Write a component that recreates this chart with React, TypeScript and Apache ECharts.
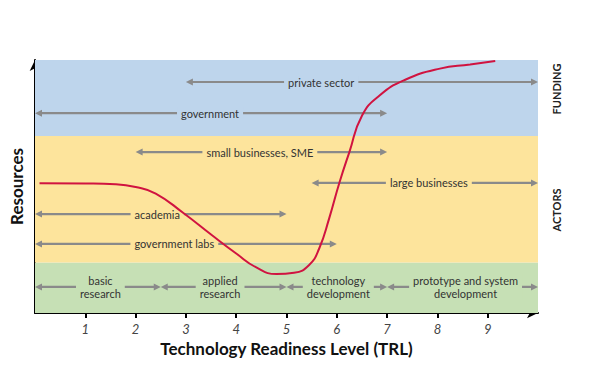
import React, { useEffect, useRef } from "react";
import * as echarts from "echarts";

// TRL axis
const trlTicks = [1, 2, 3, 4, 5, 6, 7, 8, 9];
const xMin = 0;
const xMax = 10;

// Background bands (resource level ranges)
const bandNames = ["stages", "actors", "funding"];
const bandFrom = [0, 20, 70];
const bandTo = [20, 70, 100];
const bandColors = ["#c6e0b5", "#fde49c", "#bed5ec"];
const bandLabels = ["", "ACTORS", "FUNDING"];

// Arrows
const arrowLabels = [
  "private sector",
  "government",
  "small businesses, SME",
  "large businesses",
  "academia",
  "government labs",
  "basic\nresearch",
  "applied\nresearch",
  "technology\ndevelopment",
  "prototype and system\ndevelopment",
];
const arrowStart = [3, 0, 2, 5.5, 0, 0, 0, 2.5, 5, 7];
const arrowEnd = [10, 7, 7, 10, 5, 6, 2.5, 5, 7, 10];
const arrowY = [91.3, 79, 63.6, 51.4, 39.1, 27.3, 10.3, 10.3, 10.3, 10.3];
const arrowLabelX = [5.69, 3.48, 4.47, 7.83, 2.43, 2.77, 1.3, 3.68, 6.03, 8.56];

// Resources curve
const curveX = [0.09, 1.0, 1.6, 2.0, 2.4, 2.95, 3.5, 4.0, 4.4, 4.8, 5.15, 5.45, 5.65, 5.85, 6.05, 6.25, 6.5, 6.85, 7.35, 8.05, 8.65, 9.15];
const curveY = [51.3, 51.2, 50.9, 49.8, 47.2, 39.5, 31.0, 23.5, 18.0, 15.4, 15.9, 19.0, 25.5, 37.5, 51.4, 63.6, 78.0, 86.0, 92.1, 96.6, 98.2, 99.6];

const FONT = "Lato, 'Open Sans', sans-serif";

function bandColorAt(y: number): string {
  for (let i = 0; i < bandFrom.length; i++) {
    if (y >= bandFrom[i] && y < bandTo[i]) return bandColors[i];
  }
  return "#fff";
}

export default function App() {
  const ref = useRef<HTMLDivElement>(null);

  useEffect(() => {
    if (!ref.current) return;
    const chart = echarts.init(ref.current, undefined, { renderer: "svg" });

    const arrowData = arrowLabels.map((_, i) => [arrowStart[i], arrowEnd[i], arrowY[i], arrowLabelX[i]]);

    const option: any = {
      animation: false,
      backgroundColor: "#ffffff",
      grid: { left: 32, right: 57, top: 60, bottom: 78, containLabel: false },
      xAxis: [
        {
          type: "value",
          min: xMin,
          max: xMax,
          interval: 1,
          position: "bottom",
          name: "Technology Readiness Level (TRL)",
          nameLocation: "middle",
          nameGap: 24,
          nameTextStyle: { fontFamily: FONT, fontWeight: "bold", fontSize: 17, color: "#111" },
          axisLine: {
            show: true,
            lineStyle: { color: "#000", width: 2 },
            symbol: ["none", "arrow"],
            symbolSize: [8, 11],
          },
          axisTick: { show: true, customValues: trlTicks, length: 5, lineStyle: { color: "#000", width: 2 } },
          axisLabel: {
            customValues: trlTicks,
            fontFamily: FONT,
            fontStyle: "italic",
            fontSize: 13,
            color: "#444",
            margin: 9,
          },
          splitLine: { show: false },
        },
        {
          type: "value",
          min: xMin,
          max: xMax,
          interval: 1,
          position: "bottom",
          offset: 0,
          axisLine: { show: false },
          axisTick: { show: true, inside: true, customValues: trlTicks, length: 5, lineStyle: { color: "#000", width: 2 } },
          axisLabel: { show: false },
          splitLine: { show: false },
        },
      ],
      yAxis: {
        type: "value",
        min: 0,
        max: 100,
        name: "Resources",
        nameLocation: "middle",
        nameGap: 10,
        nameTextStyle: { fontFamily: FONT, fontWeight: "bold", fontSize: 17, color: "#111" },
        axisLine: {
          show: true,
          lineStyle: { color: "#000", width: 2 },
          symbol: ["none", "arrow"],
          symbolSize: [8, 11],
        },
        axisTick: { show: false },
        axisLabel: { show: false },
        splitLine: { show: false },
      },
      series: [
        {
          name: "bands",
          type: "line",
          data: [],
          silent: true,
          z: 0,
          markArea: {
            silent: true,
            label: { show: false },
            data: bandNames.map((_, i) => [
              { yAxis: bandFrom[i], itemStyle: { color: bandColors[i], opacity: 1 } },
              { yAxis: bandTo[i] },
            ]),
          },
        },
        {
          name: "arrows",
          type: "custom",
          silent: true,
          z: 2,
          data: arrowData,
          renderItem: (params: any, api: any) => {
            const i = params.dataIndex;
            const x1 = api.value(0);
            const x2 = api.value(1);
            const y = api.value(2);
            const lx = api.value(3);
            const p1 = api.coord([x1, y]);
            const p2 = api.coord([x2, y]);
            const pl = api.coord([lx, y]);
            const color = "#8a8a8a";
            const ah = 7;
            const aw = 3.5;
            return {
              type: "group",
              children: [
                {
                  type: "line",
                  shape: { x1: p1[0] + ah - 1, y1: p1[1], x2: p2[0] - ah + 1, y2: p2[1] },
                  style: { stroke: color, lineWidth: 2.2 },
                },
                {
                  type: "polygon",
                  shape: { points: [[p1[0], p1[1]], [p1[0] + ah, p1[1] - aw], [p1[0] + ah, p1[1] + aw]] },
                  style: { fill: color },
                },
                {
                  type: "polygon",
                  shape: { points: [[p2[0], p2[1]], [p2[0] - ah, p2[1] - aw], [p2[0] - ah, p2[1] + aw]] },
                  style: { fill: color },
                },
                {
                  type: "text",
                  x: pl[0],
                  y: pl[1],
                  style: {
                    text: arrowLabels[i],
                    fill: "#333",
                    fontFamily: FONT,
                    fontSize: 11,
                    lineHeight: 13,
                    align: "center",
                    verticalAlign: "middle",
                    backgroundColor: bandColorAt(y),
                    padding: [0, 4],
                  },
                },
              ],
            };
          },
        },
        {
          name: "Resources",
          type: "line",
          z: 3,
          smooth: 0.5,
          symbol: "none",
          silent: true,
          lineStyle: { color: "#d01340", width: 2 },
          data: curveX.map((x, i) => [x, curveY[i]]),
        },
      ],
      graphic: [
        {
          type: "text",
          x: 556,
          y: 89,
          rotation: Math.PI / 2,
          style: {
            text: bandLabels[2],
            fontFamily: FONT,
            fontWeight: "bold",
            fontSize: 11,
            fill: "#222",
            align: "center",
            verticalAlign: "middle",
          },
        },
        {
          type: "text",
          x: 556,
          y: 210,
          rotation: Math.PI / 2,
          style: {
            text: bandLabels[1],
            fontFamily: FONT,
            fontWeight: "bold",
            fontSize: 11,
            fill: "#222",
            align: "center",
            verticalAlign: "middle",
          },
        },
      ],
    };

    chart.setOption(option);
    return () => chart.dispose();
  }, []);

  return <div ref={ref} style={{ width: 595, height: 391, margin: -8 }} />;
}
